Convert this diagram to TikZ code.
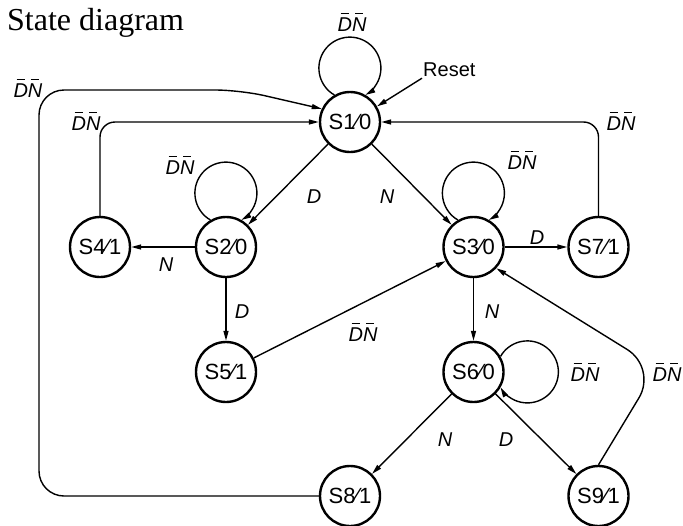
\documentclass[tikz,border=0pt]{standalone}
\usepackage{fontspec}
\setmainfont{Liberation Serif}
\setsansfont{Liberation Sans}
\usetikzlibrary{arrows.meta}

\newcommand{\nb}[1]{\makebox[0pt][l]{\kern3pt\rule[17pt]{8pt}{1.6pt}}#1}
\newcommand{\DN}{\nb{D}\nb{N}}

\begin{document}
\begin{tikzpicture}[x=1pt,y=1pt,
  >={Triangle[length=10pt,width=5pt]},
  st/.style={draw,circle,line width=2.4pt,minimum size=60pt,inner sep=0pt,
    font=\fontsize{22}{24}\selectfont\sffamily},
  lbl/.style={font=\fontsize{20}{22}\selectfont\sffamily\itshape,inner sep=1pt},
  edge/.style={->,line width=1.4pt}]
  \useasboundingbox (0,0) rectangle (683,-525);

  % Title
  \node[anchor=base west,inner sep=0pt,font=\fontsize{32}{36}\selectfont] (title) at (7,-30) {State diagram};

  % States
  \node[st] (s1) at (350,-122) {S1⁄0};
  \node[st] (s4) at (100,-247) {S4⁄1};
  \node[st] (s2) at (226,-247) {S2⁄0};
  \node[st] (s3) at (473.5,-247) {S3⁄0};
  \node[st] (s7) at (598.5,-247) {S7⁄1};
  \node[st] (s5) at (226,-372) {S5⁄1};
  \node[st] (s6) at (473.5,-372) {S6⁄0};
  \node[st] (s8) at (350,-496) {S8⁄1};
  \node[st] (s9) at (598.5,-496) {S9⁄1};

  % Reset
  \node[anchor=west,inner sep=1pt,font=\fontsize{20}{22}\selectfont\sffamily] (reset) at (422,-70) {Reset};
  \draw[edge] (reset.south west) -- (s1.30);

  % Self loops
  \draw[edge] (s1.120) arc[start angle=240, end angle=-60, radius=31];
  \draw[edge] (s2.120) arc[start angle=240, end angle=-60, radius=31];
  \draw[edge] (s3.120) arc[start angle=240, end angle=-60, radius=31];
  \draw[edge] (s6.30) arc[start angle=150, end angle=-150, radius=31];
  \node[lbl] (l1) at (352,-22) {\DN};
  \node[lbl] (l2) at (180,-165) {\DN};
  \node[lbl] (l3) at (522,-160) {\DN};
  \node[lbl] (l6) at (585,-372) {\DN};

  % Edges between states
  \draw[edge] (s1) -- (s2);
  \draw[edge] (s1) -- (s3);
  \draw[edge] (s2) -- (s4);
  \draw[edge] (s2) -- (s5);
  \draw[edge] (s5) -- (s3);
  \draw[edge] (s3) -- (s7);
  \draw[edge] (s3) -- (s6);
  \draw[edge] (s6) -- (s8);
  \draw[edge] (s6) -- (s9);
  \node[lbl] (d12) at (314,-197) {D};
  \node[lbl] (n13) at (387,-197) {N};
  \node[lbl] (n24) at (166,-265) {N};
  \node[lbl] (d25) at (242,-312) {D};
  \node[lbl] (l53) at (363,-332) {\DN};
  \node[lbl] (d37) at (537,-238) {D};
  \node[lbl] (n36) at (492,-312) {N};
  \node[lbl] (n68) at (445,-440) {N};
  \node[lbl] (d69) at (506,-440) {D};

  % Return paths
  \coordinate (bl) at (39,-496);
  \coordinate (tl) at (39,-90);
  \coordinate (tm) at (240,-90);
  \coordinate (c93) at (657,-368);
  \draw[edge,rounded corners=25pt] (s8.west) -- (bl) -- (tl) -- (tm) -- (s1.155);
  \draw[edge,rounded corners=15pt] (s4.north) |- (s1.west);
  \draw[edge,rounded corners=15pt] (s7.north) |- (s1.east);
  \draw[edge,rounded corners=35pt] (s9.north) -- (c93) -- (s3.-43);
  \node[lbl] (l81) at (28,-88) {\DN};
  \node[lbl] (l41) at (86,-121) {\DN};
  \node[lbl] (l71) at (621,-121) {\DN};
  \node[lbl] (l93) at (667,-372) {\DN};

\end{tikzpicture}
\end{document}
